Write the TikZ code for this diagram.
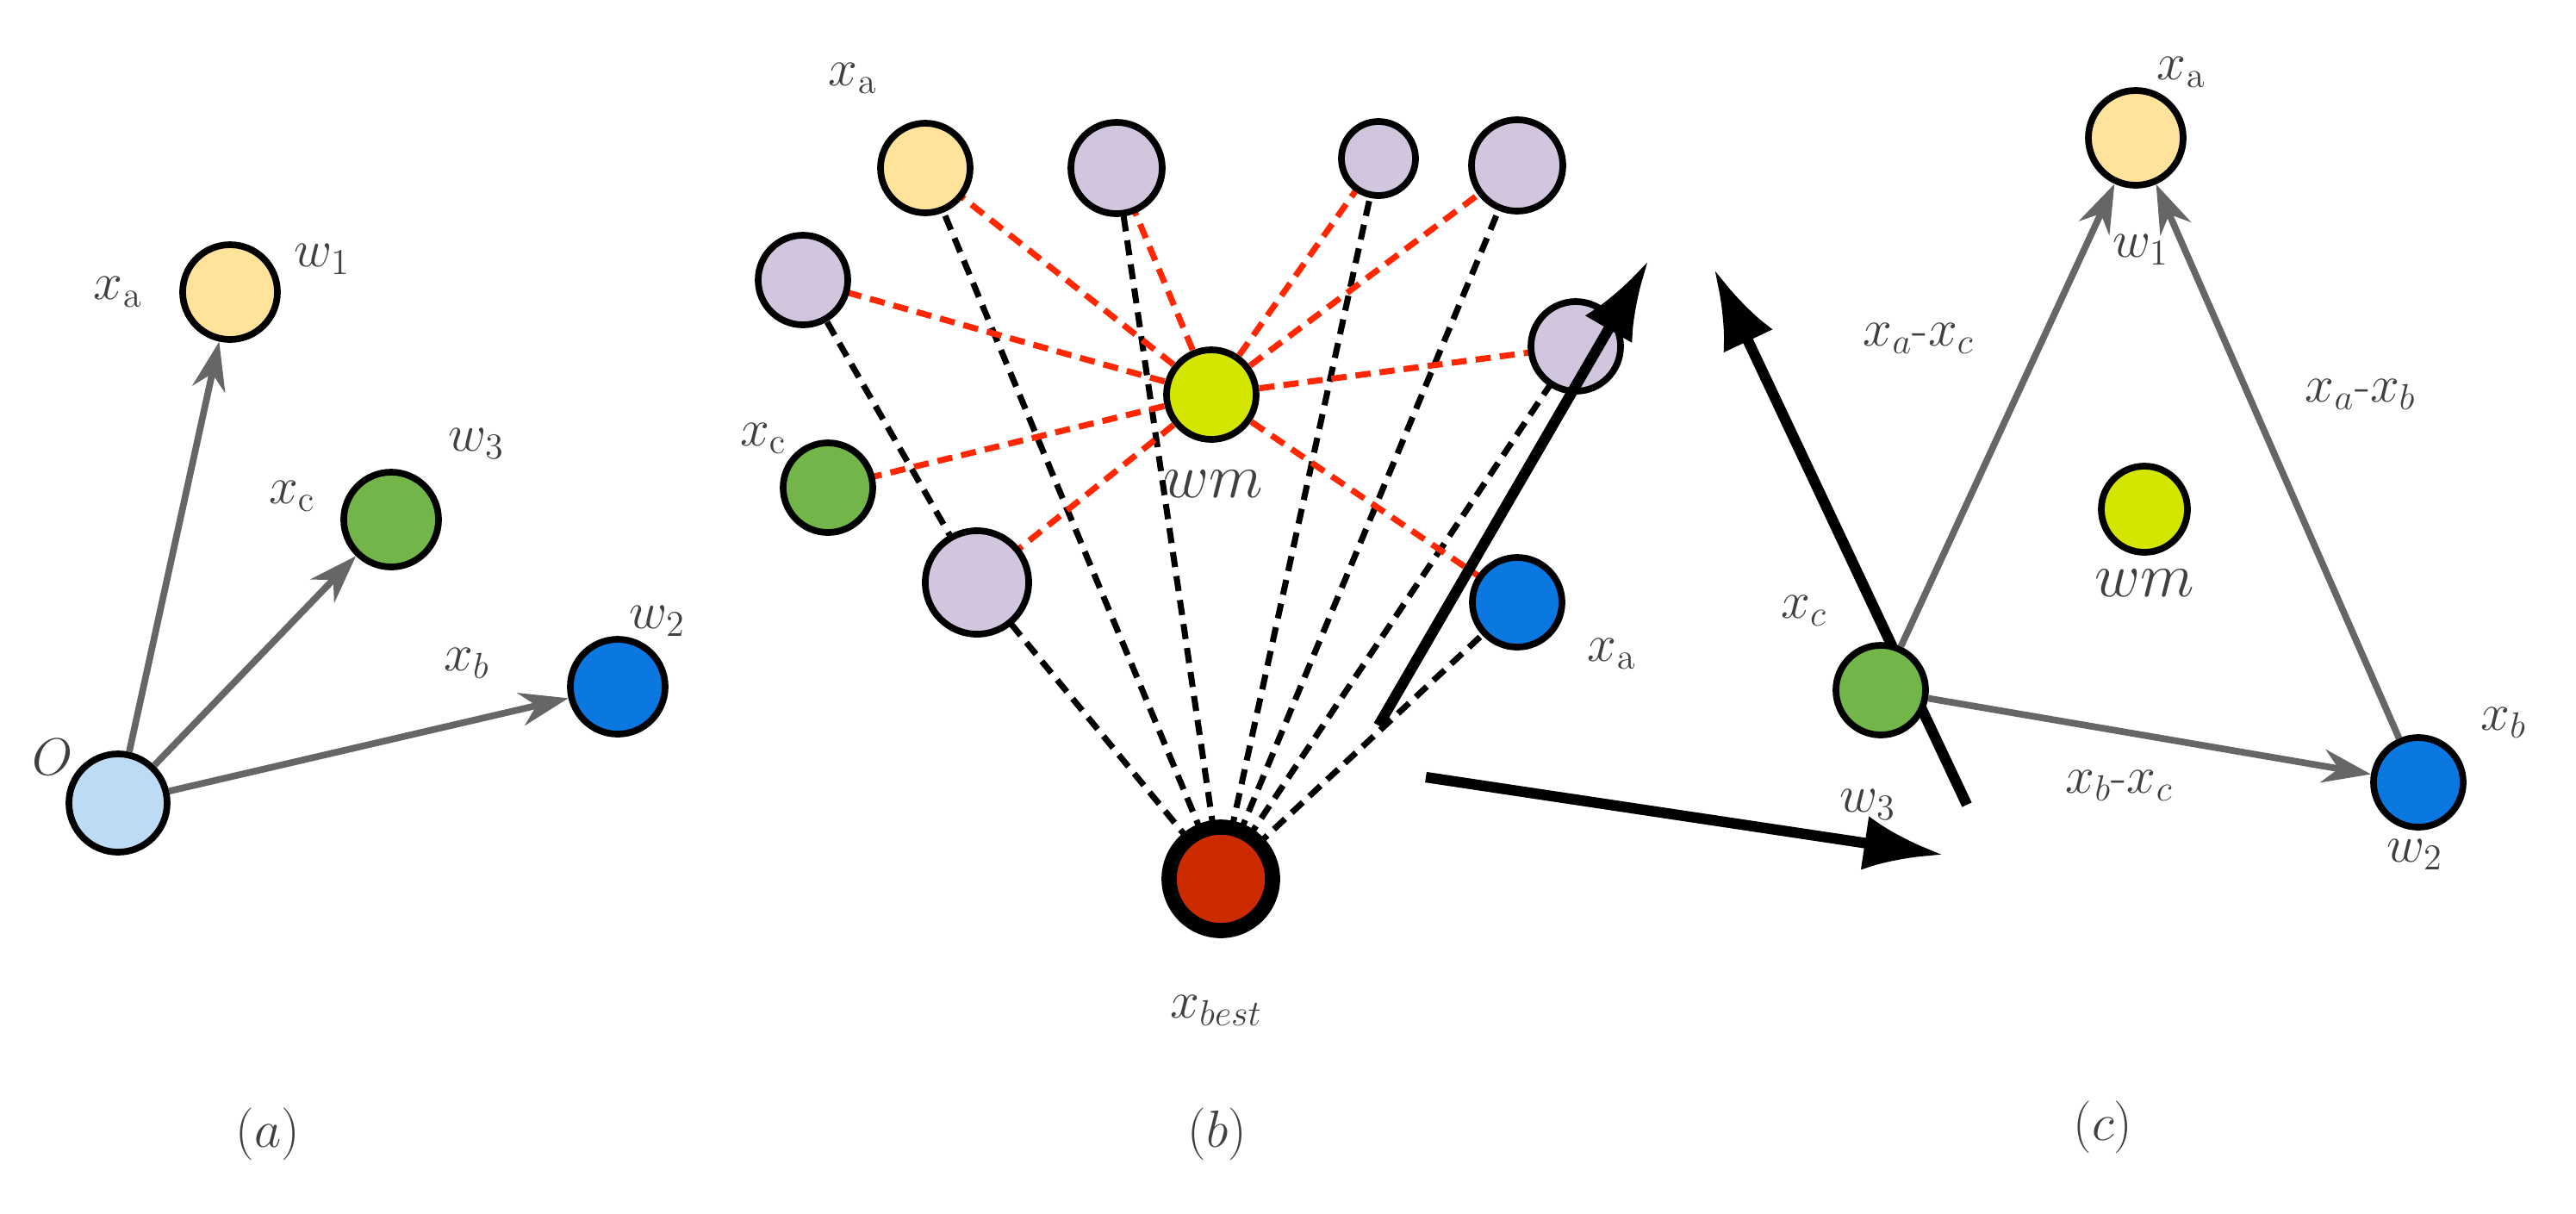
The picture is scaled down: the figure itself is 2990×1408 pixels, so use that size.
\documentclass[tikz,border=0pt]{standalone}
\usetikzlibrary{arrows.meta,backgrounds}
\begin{document}
\begin{tikzpicture}[x=0.01cm,y=-0.01cm,
 nd/.style={circle,draw=black,line width=2.2pt,inner sep=0pt,minimum size=0.01cm*#1},
 nd/.default=100,
 lb/.style={font=\fontsize{17}{20}\selectfont,text=black!75},
 ga/.style={draw=gray!80!black,line width=2.2pt,-{Stealth[length=16pt,width=11pt]}},
 bd/.style={draw=black,line width=2pt,dash pattern=on 5pt off 3pt},
 rd/.style={draw=red!70!orange,line width=2pt,dash pattern=on 5pt off 3pt},
 ba/.style={draw=black,line width=3.5pt,-{Latex[length=26pt,width=18pt]}}]
\useasboundingbox (0,0) rectangle (2990,1408);
\definecolor{cy}{HTML}{FFE39A}\definecolor{cp}{HTML}{D2C6DE}\definecolor{cg}{HTML}{72B548}
\definecolor{cl}{HTML}{D2E600}\definecolor{cb}{HTML}{0A78E0}\definecolor{cr}{HTML}{CC2A00}\definecolor{co}{HTML}{BCDCF6}
% (a)
\node[nd=114,fill=co] (O) at (137,932) {};
\node[nd=110,fill=cy] (a1) at (267,339) {};
\node[nd=110,fill=cg] (a3) at (454,603) {};
\node[nd=110,fill=cb] (a2) at (717,797) {};
\draw[ga] (O) -- (a1); \draw[ga] (O) -- (a3); \draw[ga] (O) -- (a2);
\node[lb] (la1) at (137,339) {$x_{\mathrm a}$};
\node[lb] (lw1) at (374,301) {$w_1$};
\node[lb] (lxc) at (339,576) {$x_{\mathrm c}$};
\node[lb] (lw3) at (553,515) {$w_3$};
\node[lb] (lxb) at (542,770) {$x_b$};
\node[lb] (lw2) at (763,721) {$w_2$};
\node[lb] (lO) at (61,879) {$O$};
\node[lb] (capa) at (311,1316) {$(a)$};
% (b)
\node[nd=104,fill=cy] (b1) at (1074,195) {};
\node[nd=106,fill=cp] (b2) at (1296,195) {};
\node[nd=86,fill=cp] (b3) at (1600,184) {};
\node[nd=106,fill=cp] (b4) at (1761,192) {};
\node[nd=104,fill=cp] (b5) at (932,325) {};
\node[nd=104,fill=cp] (b6) at (1829,402) {};
\node[nd=104,fill=cl] (wm) at (1406,458) {};
\node[nd=104,fill=cg] (bc) at (961,566) {};
\node[nd=120,fill=cp] (b7) at (1134,676) {};
\node[nd=104,fill=cb] (bb) at (1761,699) {};
\node[circle,draw=black,line width=5pt,inner sep=0pt,minimum size=1.2cm,fill=cr] (best) at (1417,1020) {};
\begin{pgfonlayer}{background}
\foreach \n in {b1,b2,b3,b4,b6,b7,bb} \draw[bd] (best.center) -- (\n.center);
\draw[bd] (b5.center) -- (b7.center);
\foreach \n in {b1,b2,b3,b4,b5,b6,b7,bb,bc} \draw[rd] (wm.center) -- (\n.center);
\end{pgfonlayer}
\node[lb] (lba) at (990,91) {$x_{\mathrm a}$};
\node[lb] (lbc) at (886,509) {$x_{\mathrm c}$};
\node[lb,font=\fontsize{20}{24}\selectfont] (lwm) at (1408,562) {$wm$};
\node[lb] (lbb) at (1871,759) {$x_{\mathrm a}$};
\node[lb] (lbest) at (1412,1173) {$x_{best}$};
\node[lb] (capb) at (1413,1316) {$(b)$};
% big arrows
\coordinate (s1) at (1600,842); \coordinate (e1) at (1913,303);
\coordinate (s2) at (2283,934); \coordinate (e2) at (1990,313);
\coordinate (s3) at (1655,902); \coordinate (e3) at (2255,992);
\draw[ba] (s1) -- (e1); \draw[ba] (s2) -- (e2); \draw[ba] (s3) -- (e3);
% (c)
\node[nd=110,fill=cy] (c1) at (2479,160) {};
\node[nd=100,fill=cl] (cm) at (2489,591) {};
\node[nd=104,fill=cg] (cc) at (2183,801) {};
\node[nd=104,fill=cb] (cb2) at (2807,908) {};
\draw[ga] (cc) -- (c1); \draw[ga] (cc) -- (cb2); \draw[ga] (cb2) -- (c1);
\node[lb] (lca) at (2532,84) {$x_{\mathrm a}$};
\node[lb] (lcw1) at (2485,290) {$w_1$};
\node[lb] (lcac) at (2227,393) {$x_a$-$x_c$};
\node[lb] (lcab) at (2740,458) {$x_a$-$x_b$};
\node[lb,font=\fontsize{22}{26}\selectfont] (lcwm) at (2489,677) {$wm$};
\node[lb] (lcxc) at (2094,709) {$x_c$};
\node[lb] (lcw3) at (2168,934) {$w_3$};
\node[lb] (lcbc) at (2460,912) {$x_b$-$x_c$};
\node[lb] (lcxb) at (2906,839) {$x_b$};
\node[lb] (lcw2) at (2803,992) {$w_2$};
\node[lb] (capc) at (2441,1308) {$(c)$};
\end{tikzpicture}
\end{document}
